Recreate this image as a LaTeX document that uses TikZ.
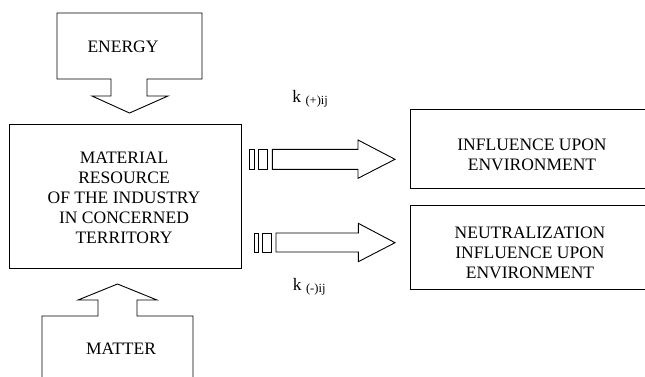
\documentclass[tikz,border=0pt]{standalone}
\usepackage{fontspec}
\setmainfont{Liberation Serif}
\begin{document}
\begin{tikzpicture}[x=1pt,y=-1pt,line width=0.9pt,
  txt/.style={font=\fontsize{17.5}{20}\selectfont, align=center, inner sep=0pt},
  lbl/.style={font=\fontsize{17.5}{20}\selectfont, inner sep=0pt, anchor=base west},
  outline/.style={draw=black, line join=miter},
  fatarrow/.style={draw=black, fill=white, line join=miter}]
\clip (0,0) rectangle (645,376);
% energy box with arrow
\draw[outline] (57,13) -- (202,13) -- (202,79) -- (147,79) -- (147,96) -- (168,96)
  -- (129.5,113) -- (92,96) -- (111,96) -- (111,79) -- (57,79) -- cycle;
\node[txt] (energy) at (123,47) {ENERGY};
% main box
\node[draw, minimum width=232pt, minimum height=144pt, inner sep=0pt] (main) at (125,196) {};
\node[txt] (maintext) at (124,197.5) {MATERIAL\\RESOURCE\\OF THE INDUSTRY\\IN CONCERNED\\TERRITORY};
% matter box with arrow
\draw[outline] (42,390) -- (42,316) -- (98,316) -- (98,300) -- (78,300) -- (117.5,284)
  -- (157,300) -- (137,300) -- (137,316) -- (193,316) -- (193,390);
\node[txt] (matter) at (121,349) {MATTER};
% upper arrow
\draw[outline] (249.3,149.3) rectangle (254.5,169.3);
\draw[outline] (258.3,149.3) rectangle (267.7,169.3);
\draw[fatarrow] (272.3,149.3) -- (358,149.3) -- (358,140) -- (395,159.3) -- (358,178.3)
  -- (358,169.3) -- (272.3,169.3) -- cycle;
% lower arrow
\draw[outline] (254,233) rectangle (258.3,252);
\draw[outline] (262.3,233) rectangle (271.7,252);
\draw[fatarrow] (276,233) -- (358.3,233) -- (358.3,223.3) -- (395,242.7) -- (358.3,261.7)
  -- (358.3,252) -- (276,252) -- cycle;
% right boxes
\draw[outline] (660,109) -- (410,109) -- (410,188.3) -- (660,188.3);
\node[txt] (infl) at (532,154.5) {INFLUENCE UPON\\ENVIRONMENT};
\draw[outline] (660,205) -- (410,205) -- (410,289.3) -- (660,289.3);
\node[txt] (neut) at (530,252.5) {NEUTRALIZATION\\INFLUENCE UPON\\ENVIRONMENT};
% labels
\node[lbl] (kplus) at (292,102.7) {k {\fontsize{12.5}{12.5}\selectfont\raisebox{-2pt}{(+)ij}}};
\node[lbl] (kminus) at (292.5,290.7) {k {\fontsize{12.5}{12.5}\selectfont\raisebox{-2pt}{(-)ij}}};
\end{tikzpicture}
\end{document}
